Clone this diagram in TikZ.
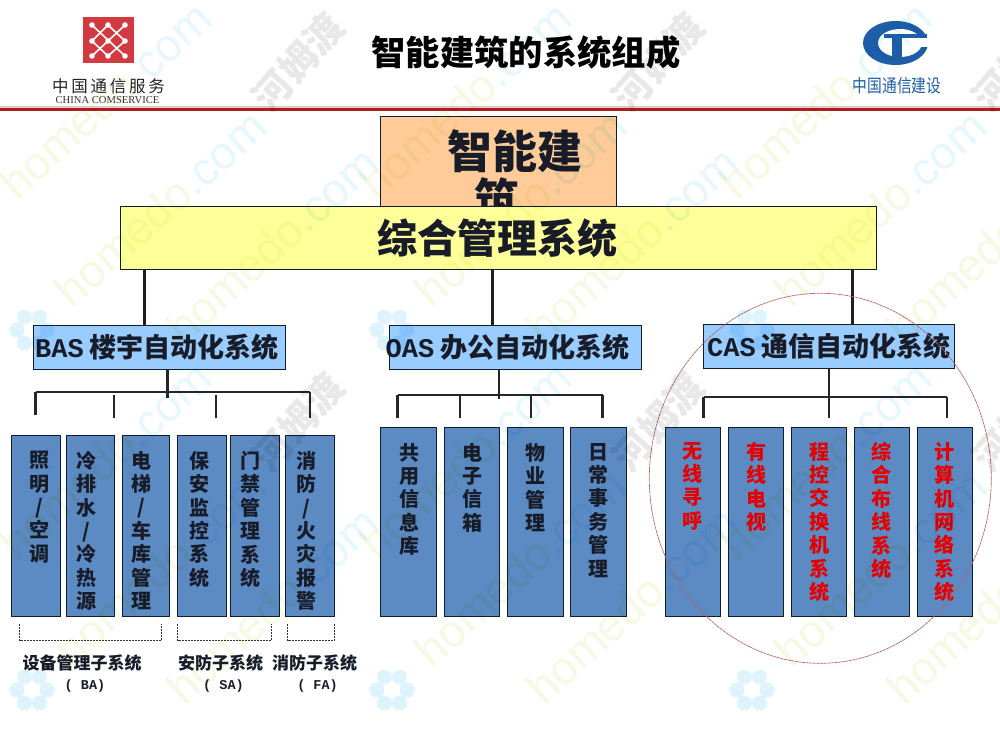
\documentclass[tikz,border=0pt]{standalone}
\usepackage{fontspec}
\setmainfont{Noto Sans CJK SC}
\setmonofont{Liberation Mono}
\newfontfamily\serifen{Liberation Serif}
\newfontfamily\sansen{Liberation Sans}
\usetikzlibrary{shapes.geometric, positioning}
\definecolor{rulered}{RGB}{168, 32, 34}
\definecolor{logored}{RGB}{209, 58, 64}
\definecolor{logoblue}{RGB}{30, 94, 168}
\definecolor{peach}{RGB}{255, 204, 153}
\definecolor{paleyellow}{RGB}{255, 255, 153}
\definecolor{skyblue}{RGB}{153, 204, 255}
\definecolor{leafblue}{RGB}{92, 139, 196}
\definecolor{boxline}{RGB}{16, 28, 48}
\definecolor{inkdark}{RGB}{24, 28, 40}
\definecolor{markgreen}{RGB}{246, 250, 228}
\definecolor{markcyan}{RGB}{230, 247, 253}
\definecolor{markpetal}{RGB}{222, 243, 251}
\definecolor{markgrey}{RGB}{232, 232, 232}
\newcommand{\pxfont}[2]{\fontsize{#1}{#2}\selectfont}
\tikzset{
  sysbox/.style={draw=boxline, line width=1pt, inner sep=0pt, outer sep=0pt, text=inkdark},
  groupbox/.style={sysbox, fill=skyblue, minimum height=44pt, font=\pxfont{27}{30}\bfseries},
  leafbox/.style={sysbox, fill=leafblue, minimum width=55.5pt},
  leaftext/.style={anchor=north, align=center, inner sep=0pt, text=inkdark, font=\pxfont{20}{23.4}\bfseries},
  redtext/.style={leaftext, text=red!90!black},
  trunk/.style={line width=3pt, draw=black!88},
  bus/.style={line width=2.8pt, draw=black!85},
  bracket/.style={draw=black!80, line width=0.6pt, dash pattern=on 2pt off 1pt},
  subname/.style={align=center, inner sep=0pt, text=inkdark, font=\pxfont{17}{20}\bfseries},
  markword/.style={rotate=42, font=\sansen\pxfont{46}{50}, inner sep=0pt}
}
\begin{document}
\begin{tikzpicture}[x=1pt, y=-1pt]
  \useasboundingbox (0, 0) rectangle (1000, 750);
  \clip (0, 0) rectangle (1000, 750);
  \fill[white] (0, 0) rectangle (1000, 750);

  % Header rule
  \fill[rulered!25] (0, 105.5) rectangle (1000, 107.5);
  \fill[rulered] (0, 107.5) rectangle (1000, 110.5);
  \node[font=\pxfont{34.3}{38}\bfseries, inner sep=0pt] (title) at (526, 52) {智能建筑的系统组成};

  % Left logo
  \fill[logored] (83, 17) rectangle (134, 63);
  \draw[white, line width=1.6pt] (92, 25) -- (125, 56) (125, 25) -- (92, 56)
    (108, 25) -- (92, 41) -- (108, 56) -- (125, 41) -- cycle;
  \foreach \px/\py in {92/25, 108/25, 125/25, 92/41, 108/41, 125/41, 92/56, 108/56, 125/56}
    \fill[white] (\px, \py) circle (2.8);
  \node[font=\pxfont{16.5}{20}, inner sep=0pt, text=black!85] (cnname) at (108.5, 86) {中\,国\,通\,信\,服\,务};
  \node[font=\serifen\pxfont{10.6}{12}, inner sep=0pt, text=black!80] (enname) at (107.5, 100) {CHINA COMSERVICE};

  % Right logo
  \fill[logoblue] (895.5, 43) ellipse [x radius=32.5, y radius=22];
  \fill[white] (900, 43) ellipse [x radius=22, y radius=14];
  \fill[white] (908, 37) rectangle (930, 47);
  \fill[logoblue] (884, 34) rectangle (927, 37.5);
  \fill[logoblue] (892, 36) rectangle (902, 64);
  \node[font=\pxfont{18}{20}, inner sep=0pt, text=logoblue, transform shape, xscale=0.82] (ctname) at (897, 86) {中国通信建设};

  % Top boxes
  \node[sysbox, fill=peach, minimum width=236pt, minimum height=100pt] (topbox) at (498.5, 166.5) {};
  \node[font=\pxfont{45}{50}\bfseries, inner sep=0pt, text=inkdark] (toptext) at (515, 151) {智能建};
  \node[font=\pxfont{45}{50}\bfseries, inner sep=0pt, text=inkdark] (toptextb) at (497, 199) {筑};
  \node[sysbox, fill=paleyellow, minimum width=756pt, minimum height=63pt, font=\pxfont{40}{44}\bfseries] (mgmt) at (498.5, 238) {\hspace*{-3pt}综合管理系统};

  % Three subsystems
  \node[groupbox, minimum width=252pt] (bas) at (159.5, 347) {\hspace*{-5pt}\texttt{BAS} 楼宇自动化系统};
  \node[groupbox, minimum width=252pt] (oas) at (515.5, 347) {\hspace*{-16pt}\texttt{OAS} 办公自动化系统};
  \node[groupbox, minimum width=251pt] (cas) at (829, 346.5) {\texttt{CAS} 通信自动化系统};

  \coordinate (ta) at (144, 269.5);
  \coordinate (tb) at (492, 269.5);
  \coordinate (tc) at (852, 269.5);
  \draw[trunk] (ta) -- (ta |- bas.north);
  \draw[trunk] (tb) -- (tb |- oas.north);
  \draw[trunk] (tc) -- (tc |- cas.north);

  % BAS leaves
  \node[leafbox, minimum width=49pt, minimum height=181pt] (ba1) at (36, 525.8) {};
  \node[leafbox, minimum width=48.5pt, minimum height=181pt] (ba2) at (90.5, 525.8) {};
  \node[leafbox, minimum width=47pt, minimum height=181pt] (ba3) at (145.8, 525.8) {};
  \node[leafbox, minimum width=49pt, minimum height=181pt] (sa1) at (201.8, 525.8) {};
  \node[leafbox, minimum width=49.5pt, minimum height=181pt] (sa2) at (255, 525.8) {};
  \node[leafbox, minimum width=49pt, minimum height=181pt] (fa1) at (309.8, 525.8) {};
  \node[leaftext] (ba1t) at (39, 451) {照\\明\\/\\空\\调};
  \node[leaftext] (ba2t) at (86.7, 451) {冷\\排\\水\\/\\冷\\热\\源};
  \node[leaftext] (ba3t) at (141.7, 451) {电\\梯\\/\\车\\库\\管\\理};
  \node[leaftext] (sa1t) at (199, 451) {保\\安\\监\\控\\系\\统};
  \node[leaftext] (sa2t) at (250, 451) {门\\禁\\管\\理\\系\\统};
  \node[leaftext] (fa1t) at (306.7, 451) {消\\防\\/\\火\\灾\\报\\警};

  \coordinate (bsl) at (35.5, 392);
  \coordinate (bsr) at (310, 392);
  \coordinate (bd1) at (35.5, 415);
  \coordinate (bd2) at (114, 418);
  \coordinate (bd3) at (216, 418);
  \coordinate (bd4) at (310, 418);
  \draw[bus] (bas.south -| 167.5, 0) -- (167.5, 398);
  \draw[bus] (bsl) -- (bsr);
  \draw[bus] (bsl) -- (bd1);
  \draw[bus] (bd2) -- (bd2 |- 0, 395);
  \draw[bus] (bd3) -- (bd3 |- 0, 395);
  \draw[bus] (bsr) -- (bd4);

  % Sub-system brackets
  \draw[bracket] (19.5, 624) -- (19.5, 640.5) -- (161.5, 640.5) -- (161.5, 624);
  \draw[bracket] (177.5, 624) -- (177.5, 640.5) -- (271.5, 640.5) -- (271.5, 624);
  \draw[bracket] (287.5, 624) -- (287.5, 640.5) -- (334.5, 640.5) -- (334.5, 624);
  \node[subname] (baname) at (82, 673.5) {设备管理子系统\\[-0.5pt]\hspace*{6pt}{\ttfamily\pxfont{13.5}{20}( BA)}};
  \node[subname] (saname) at (220.5, 673.5) {安防子系统\\[-0.5pt]\hspace*{6pt}{\ttfamily\pxfont{13.5}{20}( SA)}};
  \node[subname] (faname) at (314.5, 673.5) {消防子系统\\[-0.5pt]\hspace*{6pt}{\ttfamily\pxfont{13.5}{20}( FA)}};

  % OAS leaves
  \node[leafbox, minimum height=189pt] (oa1) at (408.7, 521.8) {};
  \node[leafbox, minimum height=189pt] (oa2) at (472, 521.8) {};
  \node[leafbox, minimum height=189pt] (oa3) at (535.3, 521.8) {};
  \node[leafbox, minimum width=56.5pt, minimum height=189pt] (oa4) at (598.5, 521.8) {};
  \node[leaftext] (oa1t) at (409, 443) {共\\用\\信\\息\\库};
  \node[leaftext] (oa2t) at (472, 443) {电\\子\\信\\箱};
  \node[leaftext] (oa3t) at (535, 443) {物\\业\\管\\理};
  \node[leaftext] (oa4t) at (598.7, 443) {日\\常\\事\\务\\管\\理};

  \coordinate (osl) at (397.5, 395);
  \coordinate (osr) at (602.5, 395);
  \coordinate (od2) at (460, 418);
  \coordinate (od3) at (531, 418);
  \draw[bus] (oas.south -| 499, 0) -- (499, 399);
  \draw[bus] (osl) -- (osr);
  \draw[bus] (osl) -- (397.5, 418);
  \draw[bus] (od2) -- (od2 |- osl);
  \draw[bus] (od3) -- (od3 |- osl);
  \draw[bus] (osr) -- (602.5, 418);

  % CAS leaves
  \node[leafbox, minimum height=189pt] (ca1) at (693, 521.8) {};
  \node[leafbox, minimum height=189pt] (ca2) at (756, 521.8) {};
  \node[leafbox, minimum height=189pt] (ca3) at (819, 521.8) {};
  \node[leafbox, minimum height=189pt] (ca4) at (882, 521.8) {};
  \node[leafbox, minimum height=189pt] (ca5) at (945, 521.8) {};
  \node[redtext] (ca1t) at (692.7, 442) {无\\线\\寻\\呼};
  \node[redtext] (ca2t) at (756, 442) {有\\线\\电\\视};
  \node[redtext] (ca3t) at (819, 442) {程\\控\\交\\换\\机\\系\\统};
  \node[redtext] (ca4t) at (881.7, 442) {综\\合\\布\\线\\系\\统};
  \node[redtext] (ca5t) at (944.3, 442) {计\\算\\机\\网\\络\\系\\统};

  \coordinate (csl) at (703.5, 397);
  \coordinate (csr) at (947, 397);
  \draw[bus] (cas.south -| 829, 0) -- (829, 418);
  \draw[bus] (csl) -- (csr);
  \draw[bus] (csl) -- (703.5, 418);
  \draw[bus] (csr) -- (947, 418);

  % Red ring round CAS
  \node[ellipse, draw=red!50!black!60, line width=0.7pt, dash pattern=on 3pt off 0.6pt, minimum width=342pt, minimum height=370pt, inner sep=0pt] (ring) at (820.3, 478.3) {};

  % Watermark
  \begin{scope}[blend mode=multiply]
    \foreach \tx in {0, 360, 720} \foreach \ty in {0, 360} {
      \node[markword] (marka\tx\ty) at (\tx+105, \ty+100) {\textcolor{markgreen}{homedo}\textcolor{markcyan}{.com}};
      \node[markword] (markb\tx\ty) at (\tx+160, \ty+208) {\textcolor{markgreen}{homedo}\textcolor{markcyan}{.com}};
      \node[markword] (markc\tx\ty) at (\tx+272, \ty+245) {\textcolor{markgreen}{homedo}\textcolor{markcyan}{.com}};
      \node[rotate=48, font=\pxfont{38}{40}\bfseries, text=markgrey, inner sep=0pt] (markd\tx\ty) at (\tx+298, \ty+62) {河姆渡};
      \foreach \ang in {0, 60, ..., 300}
        \fill[markpetal] (\tx+32, \ty+330) ++(\ang:15) circle (7.5);
    }
  \end{scope}
\end{tikzpicture}
\end{document}
